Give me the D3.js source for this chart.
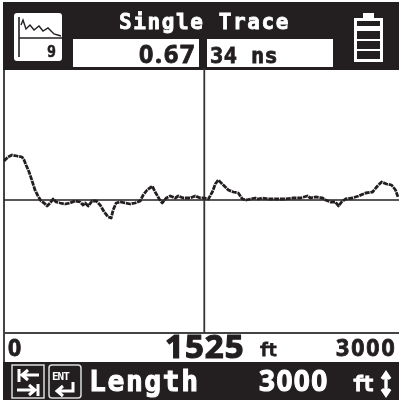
<!DOCTYPE html>
<html>
<head>
<meta charset="utf-8">
<script src="https://cdn.jsdelivr.net/npm/d3@7"></script>
<style>
  html, body { margin: 0; padding: 0; background: #fff; }
  svg { display: block; filter: blur(0.5px); }
  text { font-family: "DejaVu Sans Mono", monospace; font-weight: bold; }
  text.digits { font-family: "Noto Sans", sans-serif; }
</style>
</head>
<body>
<div id="chart"></div>
<script>
// trace values, distance in ft and level above the zero line
var traceFt = [0,30,61,99,137,153,168,191,214,236,259,282,305,328,351,374,397,427,465,503,541,580,602,618,641,671,702,732,763,793,816,831,854,885,923,961,999,1037,1060,1090,1129,1151,1182,1205,1235,1266,1304,1327,1365,1418,1456,1495,1525,1556,1586,1609,1632,1662,1708,1746,1784,1815,1845,1876,1914,1937,1967,2013,2066,2143,2204,2257,2310,2333,2371,2425,2448,2486,2524,2547,2570,2600,2654,2699,2753,2806,2844,2875,2913,2951,2981,3000];
var traceLevel = [39,43,45,44,43,40,35,28,19,10,4,-1,-3,-6,-3,1,-2,-3,-4,-3,-1,-2,-5,-3,-6,-1,-1,-5,-12,-17,-18,-10,-3,-2,-3,-4,-3,-1,5,10,14,8,1,-3,2,4,2,4,2,2,4,2,2,1,8,16,20,16,10,8,7,1,0,1,2,1,2,1,1,1,2,2,4,2,3,2,0,-2,-2,-6,-2,1,2,4,7,8,14,18,16,15,10,3];

var cursorFt = 1525;
var startLabel = "0";
var endLabel = "3000";
var cursorLabel = "1525";
var titleText = "Single Trace";
var nvpText = "0.67";
var delayText = "34 ns";
var modeText = "Length";
var lengthText = "3000";
var iconCount = "9";

var svgWidth = 399;
var svgHeight = 402;

var svg = d3.select("#chart").append("svg")
    .attr("width", svgWidth)
    .attr("height", svgHeight);

var x = d3.scaleLinear().domain([0, 3000]).range([4, 398]);
var y = d3.scaleLinear().domain([-132, 130]).range([332, 70]);

// frame and the two black bars
svg.append("rect").attr("x", 3).attr("y", 2).attr("width", 396).attr("height", 68).attr("fill", "#231f20");
svg.append("rect").attr("x", 3).attr("y", 362).attr("width", 396).attr("height", 38).attr("fill", "#231f20");
svg.append("line").attr("x1", 4).attr("x2", 4).attr("y1", 70).attr("y2", 362).attr("stroke", "#444").attr("stroke-width", 2);
svg.append("line").attr("x1", 3).attr("x2", 399).attr("y1", 333).attr("y2", 333).attr("stroke", "#444").attr("stroke-width", 2);

// zero line + cursor
svg.append("line").attr("x1", x(0)).attr("x2", 399).attr("y1", y(0)).attr("y2", y(0)).attr("stroke", "#231f20").attr("stroke-width", 1.6);
svg.append("line").attr("x1", x(cursorFt)).attr("x2", x(cursorFt)).attr("y1", 68).attr("y2", 333).attr("stroke", "#333").attr("stroke-width", 1.8);

var line = d3.line().x(function(d, i) { return x(traceFt[i]); }).y(function(d) { return y(d); });
svg.append("path").datum(traceLevel)
    .attr("d", line)
    .attr("fill", "none")
    .attr("stroke", "#231f20")
    .attr("stroke-width", 2.8)
    .attr("stroke-dasharray", "5 0.8")
    .attr("stroke-linejoin", "round");

// readout boxes
svg.append("rect").attr("x", 73).attr("y", 39).attr("width", 126).attr("height", 28).attr("fill", "#fff");
svg.append("rect").attr("x", 207).attr("y", 39).attr("width", 126).attr("height", 28).attr("fill", "#fff");

// the screen font is heavy, so thicken the text with a stroke of its own colour
function label(txt, px, py, size, color, spacing, heavy, cls) {
  return svg.append("text").attr("x", px).attr("y", py)
      .attr("class", cls || null)
      .attr("font-size", size).attr("fill", color)
      .attr("stroke", color).attr("stroke-width", heavy == null ? 0.8 : heavy)
      .attr("letter-spacing", spacing || 0)
      .text(txt);
}

label(titleText, 119, 29, 21, "#fff", 1.6);
label(nvpText, 139, 63, 25, "#231f20", 1.8, 0.8, "digits");
label(delayText, 210, 63, 22, "#231f20", 0.4);
label(startLabel, 8, 356, 23, "#231f20", 0, 0.8, "digits");
label(cursorLabel, 165, 358, 33, "#231f20", 1, 1.2, "digits");
label("ft", 259, 356, 17, "#231f20", -2);
label(endLabel, 336, 356, 23, "#231f20", 2, 0.8, "digits");
label(modeText, 89, 391, 28, "#fff", 1.6, 1);
label(lengthText, 259, 391, 28, "#fff", 1.4, 1, "digits");
label("ft", 352, 391, 21, "#fff", -3);

// trace icon, top left
var iconTrace = [[21,25],[23,20],[26,29],[30,25],[34,30],[39,26],[43,31],[48,28],[54,34],[61,36]];
var icon = svg.append("g");
icon.append("rect").attr("x", 14).attr("y", 13).attr("width", 48).attr("height", 48).attr("rx", 3).attr("fill", "#fff");
icon.append("path").attr("d", d3.line()(iconTrace)).attr("fill", "none").attr("stroke", "#231f20").attr("stroke-width", 1.4);
icon.append("line").attr("x1", 19).attr("x2", 19).attr("y1", 17).attr("y2", 57).attr("stroke", "#231f20").attr("stroke-width", 1.6);
icon.append("line").attr("x1", 19).attr("x2", 62).attr("y1", 38).attr("y2", 38).attr("stroke", "#231f20").attr("stroke-width", 1.6);
label(iconCount, 47, 57, 15, "#231f20", 0, 0.5);

// battery
var battery = svg.append("g");
battery.append("rect").attr("x", 363).attr("y", 13).attr("width", 11).attr("height", 7).attr("fill", "#fff");
battery.append("rect").attr("x", 354).attr("y", 18).attr("width", 29).attr("height", 44).attr("fill", "#fff");
[21, 31, 41, 51].forEach(function(top, i) {
  battery.append("rect").attr("x", 357).attr("y", top).attr("width", 23)
      .attr("height", i == 0 ? 5 : 8).attr("fill", "#231f20");
});

// softkey icons
var keyLeft = svg.append("g").attr("fill", "none").attr("stroke", "#ddd").attr("stroke-width", 1.5);
keyLeft.append("rect").attr("x", 12).attr("y", 365).attr("width", 32).attr("height", 33);
keyLeft.append("rect").attr("x", 49).attr("y", 365).attr("width", 32).attr("height", 33).attr("rx", 3);
var arrows = svg.append("g").attr("fill", "none").attr("stroke", "#fff").attr("stroke-width", 3);
arrows.append("path").attr("d", "M19 369V382M39 375H23M28 370L22 375L28 380");
arrows.append("path").attr("d", "M38 384V396M17 390H34M29 385L35 390L29 395");
arrows.append("path").attr("d", "M73 382V391H58M63 386L57 391L63 396");
svg.append("text").attr("x", 52).attr("y", 380).attr("font-size", 11).attr("fill", "#fff").attr("letter-spacing", -1).text("ENT");

// up/down arrow next to the length
svg.append("path").attr("d", "M386 373V395M382 379L386 373L390 379M382 389L386 395L390 389")
    .attr("fill", "none").attr("stroke", "#fff").attr("stroke-width", 3.4);
</script>
</body>
</html>
